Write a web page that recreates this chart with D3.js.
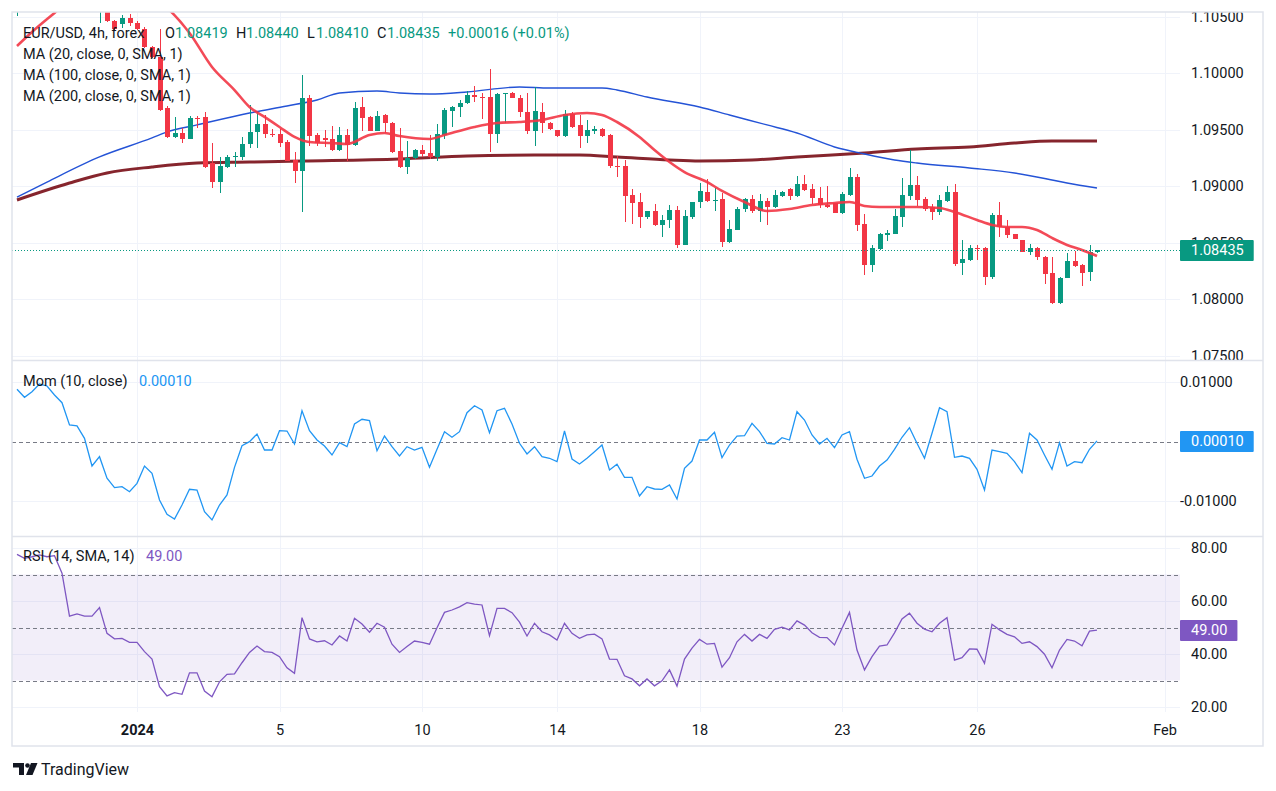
<!DOCTYPE html>
<html><head><meta charset="utf-8">
<script src="https://cdn.jsdelivr.net/npm/d3@7"></script>
<style>body{margin:0;background:#fff;} svg{display:block;}</style>
</head><body>
<svg id="c" width="1276" height="791"></svg>
<script>
// ---------------- DATA ----------------
const opens = [1.10620,1.11073,1.10905,1.11081,1.11168,1.11250,1.11289,1.11095,1.10645,1.10679,
1.10658,1.10600,1.10650,1.10463,1.10437,1.10490,1.10445,1.10392,1.10233,1.10145,
1.09693,1.09437,1.09472,1.09419,1.09605,1.09614,1.09206,1.09038,1.09171,1.09260,
1.09260,1.09375,1.09481,1.09552,1.09463,1.09463,1.09392,1.09233,1.09136,1.09782,
1.09454,1.09428,1.09419,1.09321,1.09454,1.09366,1.09702,1.09614,1.09490,1.09631,
1.09560,1.09313,1.09171,1.09251,1.09321,1.09295,1.09260,1.09454,1.09666,1.09702,
1.09737,1.09808,1.09791,1.09791,1.09463,1.09817,1.09826,1.09782,1.09658,1.09490,
1.09658,1.09560,1.09498,1.09445,1.09640,1.09543,1.09445,1.09490,1.09507,1.09454,
1.09180,1.09180,1.08923,1.08861,1.08729,1.08782,1.08658,1.08702,1.08790,1.08481,
1.08729,1.08861,1.08950,1.08870,1.08888,1.08507,1.08613,1.08799,1.08888,1.08782,
1.08870,1.08817,1.08914,1.08976,1.08914,1.09021,1.08976,1.08897,1.08835,1.08852,
1.08764,1.08923,1.09083,1.08667,1.08304,1.08445,1.08569,1.08578,1.08729,1.08914,
1.09012,1.08888,1.08817,1.08773,1.08870,1.08950,1.08321,1.08348,1.08454,1.08454,
1.08198,1.08746,1.08640,1.08578,1.08525,1.08419,1.08454,1.08375,1.08233,1.07967,
1.08189,1.08339,1.08304,1.08242,1.08419];
const highs = [1.11120,1.11150,1.11120,1.11220,1.11390,1.11400,1.11310,1.11120,1.10760,1.10720,
1.10740,1.10720,1.10700,1.10470,1.10516,1.10525,1.10460,1.10409,1.10240,1.10392,
1.09711,1.09614,1.09516,1.09622,1.09622,1.09658,1.09383,1.09260,1.09277,1.09304,
1.09437,1.09720,1.09658,1.09631,1.09507,1.09507,1.09410,1.09304,1.09985,1.09808,
1.09472,1.09498,1.09534,1.09525,1.09507,1.09746,1.09791,1.09620,1.09666,1.09636,
1.09570,1.09516,1.09401,1.09330,1.09366,1.09454,1.09552,1.09693,1.09710,1.09764,
1.09843,1.09888,1.09826,1.10038,1.09826,1.09830,1.09835,1.09808,1.09826,1.09879,
1.09737,1.09565,1.09500,1.09675,1.09658,1.09631,1.09587,1.09534,1.09516,1.09460,
1.09268,1.09233,1.08976,1.08941,1.08785,1.08844,1.08746,1.08835,1.08826,1.08790,
1.08865,1.09029,1.09065,1.08985,1.08941,1.08702,1.08817,1.08897,1.08923,1.08932,
1.08897,1.08967,1.08959,1.08985,1.09091,1.09100,1.09021,1.08994,1.09003,1.08855,
1.08950,1.09162,1.09109,1.08755,1.08481,1.08587,1.08613,1.08799,1.09074,1.09321,
1.09091,1.08906,1.08844,1.08923,1.09003,1.09021,1.08525,1.08481,1.08481,1.08460,
1.08764,1.08861,1.08702,1.08580,1.08528,1.08490,1.08463,1.08380,1.08375,1.08195,
1.08410,1.08428,1.08310,1.08481,1.08440];
const lows = [1.10507,1.10860,1.10880,1.11040,1.11140,1.11200,1.11020,1.10580,1.10590,1.10600,
1.10580,1.10445,1.10454,1.10383,1.10401,1.10419,1.10383,1.10224,1.10136,1.09666,
1.09428,1.09428,1.09383,1.09419,1.09516,1.09162,1.08985,1.08941,1.09162,1.09171,
1.09233,1.09339,1.09339,1.09428,1.09437,1.09348,1.09220,1.09029,1.08773,1.09357,
1.09357,1.09348,1.09313,1.09313,1.09224,1.09357,1.09490,1.09485,1.09485,1.09472,
1.09295,1.09165,1.09109,1.09242,1.09260,1.09242,1.09224,1.09420,1.09525,1.09614,
1.09730,1.09746,1.09596,1.09304,1.09383,1.09560,1.09780,1.09614,1.09463,1.09357,
1.09472,1.09500,1.09437,1.09440,1.09516,1.09339,1.09383,1.09463,1.09440,1.09162,
1.09083,1.08684,1.08667,1.08631,1.08711,1.08649,1.08552,1.08631,1.08454,1.08478,
1.08711,1.08808,1.08861,1.08780,1.08463,1.08498,1.08610,1.08773,1.08764,1.08684,
1.08658,1.08808,1.08906,1.08879,1.08906,1.08959,1.08844,1.08808,1.08808,1.08760,
1.08755,1.08914,1.08605,1.08215,1.08242,1.08436,1.08516,1.08575,1.08640,1.08879,
1.08826,1.08782,1.08702,1.08746,1.08865,1.08295,1.08215,1.08339,1.08348,1.08127,
1.08180,1.08552,1.08543,1.08530,1.08415,1.08392,1.08348,1.08136,1.07962,1.07959,
1.08185,1.08290,1.08118,1.08162,1.08410];
const closes = [1.11073,1.10905,1.11081,1.11168,1.11250,1.11289,1.11095,1.10645,1.10679,1.10658,
1.10661,1.10650,1.10463,1.10392,1.10490,1.10445,1.10392,1.10233,1.10145,1.09675,
1.09437,1.09472,1.09419,1.09605,1.09600,1.09171,1.09038,1.09180,1.09260,1.09268,
1.09375,1.09481,1.09552,1.09463,1.09458,1.09383,1.09224,1.09136,1.09782,1.09445,
1.09383,1.09410,1.09321,1.09454,1.09366,1.09693,1.09605,1.09490,1.09622,1.09560,
1.09304,1.09171,1.09251,1.09321,1.09286,1.09260,1.09463,1.09675,1.09702,1.09737,
1.09808,1.09791,1.09786,1.09463,1.09817,1.09826,1.09782,1.09658,1.09490,1.09666,
1.09560,1.09507,1.09445,1.09640,1.09525,1.09445,1.09498,1.09507,1.09445,1.09180,
1.09175,1.08914,1.08852,1.08729,1.08782,1.08658,1.08702,1.08790,1.08481,1.08737,
1.08861,1.08959,1.08870,1.08879,1.08507,1.08622,1.08799,1.08888,1.08782,1.08870,
1.08817,1.08923,1.08950,1.08914,1.09021,1.08967,1.08897,1.08835,1.08820,1.08764,
1.08932,1.09083,1.08658,1.08304,1.08454,1.08578,1.08587,1.08737,1.08923,1.09012,
1.08879,1.08799,1.08773,1.08879,1.08950,1.08313,1.08357,1.08454,1.08450,1.08198,
1.08746,1.08640,1.08569,1.08534,1.08419,1.08454,1.08375,1.08224,1.07967,1.08189,
1.08339,1.08295,1.08233,1.08419,1.08435];

// moving averages as [bar index, value]
const ma20 = [[0,1.10242],[2,1.10366],[5,1.10534],[8,1.10700],[12,1.10800],[16,1.10750],[20,1.10580],
[23,1.10357],[26,1.10056],[29,1.09852],[31,1.09702],[33,1.09614],[35,1.09525],[37,1.09437],[39,1.09392],
[42,1.09383],[44,1.09375],[47,1.09454],[49,1.09472],[51,1.09445],[55,1.09419],[57,1.09454],[61,1.09525],
[64,1.09560],[67,1.09569],[70,1.09587],[73,1.09631],[76,1.09649],[78,1.09631],[80,1.09569],[83,1.09437],
[85,1.09321],[87,1.09215],[89,1.09126],[92,1.09038],[94,1.08959],[97,1.08861],[100,1.08782],[103,1.08799],
[106,1.08835],[109,1.08852],[111,1.08861],[113,1.08826],[115,1.08817],[120,1.08817],[123,1.08808],
[125,1.08773],[128,1.08702],[130,1.08658],[132,1.08640],[134,1.08640],[136,1.08613],[138,1.08543],
[140,1.08481],[142,1.08436],[144,1.08383]];
const ma100 = [[0,1.08905],[4,1.09038],[11,1.09260],[18,1.09428],[20,1.09481],[24,1.09543],[31,1.09649],
[36,1.09711],[40,1.09764],[43,1.09826],[48,1.09843],[51,1.09826],[55,1.09817],[60,1.09835],[67,1.09879],
[71,1.09870],[78,1.09870],[80,1.09852],[84,1.09790],[91,1.09702],[95,1.09631],[100,1.09543],[104,1.09472],
[109,1.09348],[113,1.09286],[117,1.09233],[120,1.09206],[127,1.09162],[133,1.09118],[138,1.09056],
[140,1.09029],[144,1.08985]];
const ma200 = [[0,1.08879],[7,1.09029],[12,1.09118],[18,1.09171],[24,1.09206],[31,1.09215],[38,1.09224],
[51,1.09242],[60,1.09268],[69,1.09277],[75,1.09277],[80,1.09260],[87,1.09233],[91,1.09224],[98,1.09233],
[104,1.09260],[113,1.09295],[120,1.09330],[127,1.09348],[133,1.09383],[138,1.09401],[144,1.09401]];

const mom = [0.00877,0.00743,0.00837,0.00966,0.00933,0.00782,0.00652,0.00277,0.00261,0.00054,
-0.00412,-0.00255,-0.00618,-0.00776,-0.00760,-0.00844,-0.00703,-0.00412,-0.00534,-0.00983,
-0.01224,-0.01303,-0.01067,-0.00803,-0.00815,-0.01180,-0.01319,-0.01067,-0.00899,-0.00434,
-0.00071,-0.00003,0.00126,-0.00143,-0.00143,0.00182,0.00176,-0.00042,0.00518,0.00182,
0.00025,-0.00076,-0.00227,-0.00020,-0.00087,0.00294,0.00373,0.00350,-0.00155,0.00092,
-0.00087,-0.00244,-0.00087,-0.00143,-0.00097,-0.00434,-0.00131,0.00165,0.00071,0.00165,
0.00484,0.00602,0.00529,0.00148,0.00518,0.00558,0.00294,-0.00030,-0.00210,-0.00087,
-0.00255,-0.00282,-0.00339,0.00176,-0.00294,-0.00378,-0.00282,-0.00171,-0.00059,-0.00479,
-0.00383,-0.00602,-0.00602,-0.00916,-0.00760,-0.00798,-0.00803,-0.00731,-0.00966,-0.00450,
-0.00328,0.00025,0.00025,0.00155,-0.00272,-0.00059,0.00092,0.00097,0.00306,0.00165,
-0.00030,-0.00042,0.00064,0.00025,0.00501,0.00361,0.00109,-0.00042,0.00054,-0.00104,
0.00109,0.00165,-0.00299,-0.00618,-0.00580,-0.00412,-0.00311,-0.00131,0.00071,0.00232,
-0.00030,-0.00282,0.00138,0.00568,0.00501,-0.00266,-0.00244,-0.00282,-0.00467,-0.00815,
-0.00143,-0.00171,-0.00198,-0.00339,-0.00524,0.00138,0.00025,-0.00227,-0.00467,-0.00020,
-0.00412,-0.00339,-0.00356,-0.00131,0.00010];

const rsi = [77.6,76.1,76.7,77.4,76.7,77.1,70.5,54.3,55.1,54.3,
54.3,57.5,47.8,45.7,45.9,44.4,44.4,40.9,38.1,27.7,
24.2,25.4,24.8,32.9,32.9,26.0,23.9,29.5,32.3,32.5,
36.7,40.6,43.0,40.9,40.6,39.0,34.8,32.7,53.7,45.7,
44.6,45.0,43.4,46.8,44.9,53.5,51.3,48.2,51.6,50.1,
43.7,40.6,42.8,44.9,44.4,43.7,49.9,55.7,56.6,57.8,
59.4,58.8,58.5,46.9,57.2,57.2,55.6,52.0,46.8,51.6,
48.4,47.2,45.3,51.6,47.8,45.9,47.2,47.5,45.7,38.1,
38.0,31.8,30.6,28.0,30.6,28.0,29.9,34.0,27.9,38.1,
42.2,45.5,43.7,44.0,35.0,38.6,44.6,47.4,44.9,47.4,
45.9,49.3,50.1,49.1,52.5,50.9,48.0,46.3,46.2,43.4,
49.7,55.7,41.5,34.0,39.0,43.0,43.4,48.0,53.2,55.4,
51.6,49.4,48.4,51.6,53.7,37.7,38.6,41.9,41.8,36.5,
51.2,49.1,47.4,46.5,44.0,44.6,42.8,39.9,34.8,41.5,
45.5,44.9,43.1,48.6,49.0];

const timeTickIdx = [16,35,54,72,91,110,128,153];
const timeTickLabels = ["2024","5","10","14","18","23","26","Feb"];
const priceTicks = [1.075,1.080,1.085,1.090,1.095,1.100,1.105];
const momTicks = [-0.01,0.01];
const rsiTicks = [20,40,60,80];
const rsiBands = [30,50,70];

// ---------------- LAYOUT ----------------
const FONT = "Roboto, 'Trebuchet MS', Arial, sans-serif";
const TXT = "#131722", UP = "#089981", DOWN = "#f23645";
const PL = 12, PR = 1180, RR = 1263;
const pane = {p:[12,360], m:[361,536], r:[537,712]};
const N = closes.length;

const svg = d3.select("#c").style("font-family", FONT);
const defs = svg.append("defs");
function clip(id, x0, y0, x1, y1){
  defs.append("clipPath").attr("id", id).append("rect")
    .attr("x", x0).attr("y", y0).attr("width", x1-x0).attr("height", y1-y0);
}
clip("cP", PL, pane.p[0], PR, pane.p[1]);
clip("cM", PL, pane.m[0], PR, pane.m[1]);
clip("cR", PL, pane.r[0], PR, pane.r[1]);
clip("sP", PR, pane.p[0], RR, pane.p[1]);
clip("sM", PR, pane.m[0], RR, pane.m[1]);
clip("sR", PR, pane.r[0], RR, pane.r[1]);

const x = d3.scaleLinear().domain([0,144]).range([17,1097]);
const yP = d3.scaleLinear().domain([1.075,1.105]).range([355.8,16.8]);
const yM = d3.scaleLinear().domain([-0.01,0.01]).range([501,382]);
const yR = d3.scaleLinear().domain([20,80]).range([707,548]);

// grid
const grid = svg.append("g").attr("stroke","#f0f3fa").attr("stroke-width",1);
grid.selectAll("line.v").data(timeTickIdx).join("line")
  .attr("x1", d=>Math.round(x(d))+0.5).attr("x2", d=>Math.round(x(d))+0.5)
  .attr("y1", 12).attr("y2", 712);
grid.append("g").attr("clip-path","url(#cP)").selectAll("line").data(priceTicks).join("line")
  .attr("x1",PL).attr("x2",PR).attr("y1",d=>Math.round(yP(d))+0.5).attr("y2",d=>Math.round(yP(d))+0.5);
grid.append("g").selectAll("line").data(momTicks).join("line")
  .attr("x1",PL).attr("x2",PR).attr("y1",d=>Math.round(yM(d))+0.5).attr("y2",d=>Math.round(yM(d))+0.5);
grid.append("g").selectAll("line").data(rsiTicks).join("line")
  .attr("x1",PL).attr("x2",PR).attr("y1",d=>Math.round(yR(d))+0.5).attr("y2",d=>Math.round(yR(d))+0.5);

// RSI band
svg.append("rect").attr("x",PL).attr("width",PR-PL)
  .attr("y", yR(70)).attr("height", yR(30)-yR(70))
  .attr("fill","rgba(126,87,194,0.10)");
svg.append("g").attr("stroke","#787b86").attr("stroke-dasharray","4,3").attr("stroke-width",1)
  .selectAll("line").data(rsiBands).join("line")
  .attr("x1",PL).attr("x2",PR).attr("y1",d=>Math.round(yR(d))+0.5).attr("y2",d=>Math.round(yR(d))+0.5);
// Momentum zero line
svg.append("line").attr("x1",PL).attr("x2",PR).attr("y1",Math.round(yM(0))+0.5).attr("y2",Math.round(yM(0))+0.5)
  .attr("stroke","#787b86").attr("stroke-dasharray","4,3");

// ---------------- PRICE PANE ----------------
const gp = svg.append("g").attr("clip-path","url(#cP)");
const lineMA = d3.line().x(d=>x(d[0])).y(d=>yP(d[1])).curve(d3.curveMonotoneX);
gp.append("path").attr("d", lineMA(ma200)).attr("fill","none").attr("stroke","#801922").attr("stroke-width",3).attr("stroke-opacity",0.95);
gp.append("path").attr("d", lineMA(ma100)).attr("fill","none").attr("stroke","#2453d6").attr("stroke-width",1.4);

const bars = d3.range(N).map(i=>({i, o:opens[i], h:highs[i], l:lows[i], c:closes[i]}));
const cg = gp.append("g");
cg.selectAll("line").data(bars).join("line")
  .attr("x1", d=>Math.round(x(d.i))+0.5).attr("x2", d=>Math.round(x(d.i))+0.5)
  .attr("y1", d=>Math.round(yP(d.h))).attr("y2", d=>Math.round(yP(d.l)))
  .attr("stroke", d=>d.c>=d.o?UP:DOWN).attr("stroke-width",1);
cg.selectAll("rect").data(bars).join("rect")
  .attr("x", d=>Math.round(x(d.i))-2).attr("width",5)
  .attr("y", d=>Math.round(yP(Math.max(d.o,d.c))))
  .attr("height", d=>Math.max(1, Math.round(yP(Math.min(d.o,d.c)))-Math.round(yP(Math.max(d.o,d.c)))))
  .attr("fill", d=>d.c>=d.o?UP:DOWN);

gp.append("path").attr("d", lineMA(ma20)).attr("fill","none").attr("stroke",DOWN).attr("stroke-width",2.6).attr("stroke-opacity",0.9);

// last price dotted line
const lastC = closes[N-1];
gp.append("line").attr("x1",PL).attr("x2",PR).attr("y1",Math.round(yP(lastC))+0.5).attr("y2",Math.round(yP(lastC))+0.5)
  .attr("stroke",UP).attr("stroke-dasharray","1,2").attr("stroke-width",1);

// ---------------- MOMENTUM ----------------
svg.append("g").attr("clip-path","url(#cM)").append("path")
  .attr("d", d3.line().x((d,i)=>x(i)).y(d=>yM(d))(mom))
  .attr("fill","none").attr("stroke","#2196f3").attr("stroke-width",1.3);

// ---------------- RSI ----------------
svg.append("g").attr("clip-path","url(#cR)").append("path")
  .attr("d", d3.line().x((d,i)=>x(i)).y(d=>yR(d))(rsi))
  .attr("fill","none").attr("stroke","#7e57c2").attr("stroke-width",1.3);

// ---------------- AXES ----------------
function styleAxis(g){
  g.select(".domain").remove();
  g.selectAll("text").attr("fill",TXT).style("font-size","14.5px").style("font-family",FONT);
}
svg.append("g").attr("clip-path","url(#sP)").append("g").attr("transform","translate(1180,0)")
  .call(d3.axisRight(yP).tickValues(priceTicks).tickFormat(d3.format(".5f")).tickSize(0).tickPadding(11)).call(styleAxis);
svg.append("g").attr("clip-path","url(#sM)").append("g").attr("transform","translate(1180,0)")
  .call(d3.axisRight(yM).tickValues(momTicks).tickFormat(d=>d3.format(".5f")(d).replace("−","-")).tickSize(0).tickPadding(d=>11)).call(styleAxis);
svg.append("g").attr("clip-path","url(#sR)").append("g").attr("transform","translate(1180,0)")
  .call(d3.axisRight(yR).tickValues(rsiTicks).tickFormat(d3.format(".2f")).tickSize(0).tickPadding(11)).call(styleAxis);
const tAx = svg.append("g").attr("transform","translate(0,716)")
  .call(d3.axisBottom(x).tickValues(timeTickIdx).tickFormat((d,i)=>timeTickLabels[i]).tickSize(0).tickPadding(9))
  .call(styleAxis);
tAx.selectAll("text").style("font-weight",(d,i)=>i===0?"700":"400");

// value label boxes
function valueBox(yv, label, color){
  const g = svg.append("g");
  const r = g.append("rect").attr("fill",color);
  const t = g.append("text").attr("x",1191).attr("y",yv).attr("dy","0.35em")
    .attr("fill","#fff").style("font-size","14.5px").text(label);
  const w = t.node().getComputedTextLength();
  r.attr("x",1180).attr("y",Math.round(yv)-10).attr("width",w+21).attr("height",21).attr("rx",1);
}
valueBox(yP(lastC), d3.format(".5f")(lastC), UP);
valueBox(yM(mom[N-1]), d3.format(".5f")(mom[N-1]), "#2196f3");
valueBox(yR(rsi[N-1]), d3.format(".2f")(rsi[N-1]), "#7e57c2");

// ---------------- LEGENDS ----------------
const lg = svg.append("g").style("font-size","14.5px");
function txt(xp, yp, s, col){ lg.append("text").attr("x",xp).attr("y",yp).attr("fill",col).text(s); }
txt(23, 38, "EUR/USD, 4h, forex", TXT);
txt(165, 38, "O", TXT); txt(175, 38, d3.format(".5f")(opens[N-1]), UP);
txt(236, 38, "H", TXT); txt(246, 38, d3.format(".5f")(highs[N-1]), UP);
txt(307, 38, "L", TXT); txt(316, 38, d3.format(".5f")(lows[N-1]), UP);
txt(377, 38, "C", TXT); txt(387, 38, d3.format(".5f")(closes[N-1]), UP);
txt(448, 38, "+0.00016 (+0.01%)", UP);
txt(23, 59, "MA (20, close, 0, SMA, 1)", TXT);
txt(23, 80, "MA (100, close, 0, SMA, 1)", TXT);
txt(23, 101, "MA (200, close, 0, SMA, 1)", TXT);
txt(23, 386, "Mom (10, close)", TXT);
txt(139, 386, d3.format(".5f")(mom[N-1]), "#2196f3");
txt(23, 561, "RSI (14, SMA, 14)", TXT);
txt(146, 561, d3.format(".2f")(rsi[N-1]), "#7e57c2");

// ---------------- FRAME ----------------
const fr = svg.append("g").attr("stroke","#e0e3eb").attr("fill","none");
fr.append("line").attr("x1",12).attr("x2",RR).attr("y1",360.5).attr("y2",360.5).attr("stroke-width",1.5);
fr.append("line").attr("x1",12).attr("x2",RR).attr("y1",536.5).attr("y2",536.5).attr("stroke-width",1.5);
fr.append("rect").attr("x",12).attr("y",12).attr("width",RR-12).attr("height",734).attr("stroke-width",1.5);

// ---------------- TradingView logo ----------------
const logo = svg.append("g").attr("fill",TXT);
logo.append("path").attr("d","M13 763 H24 V775 H19 V767.5 H13 Z");
logo.append("circle").attr("cx",27.5).attr("cy",765.5).attr("r",2.3);
logo.append("path").attr("d","M31 763 H37.5 L32.5 775 H26 Z");
svg.append("text").attr("x",41).attr("y",775).attr("fill",TXT).style("font-size","16px").text("TradingView");
</script>
</body></html>
